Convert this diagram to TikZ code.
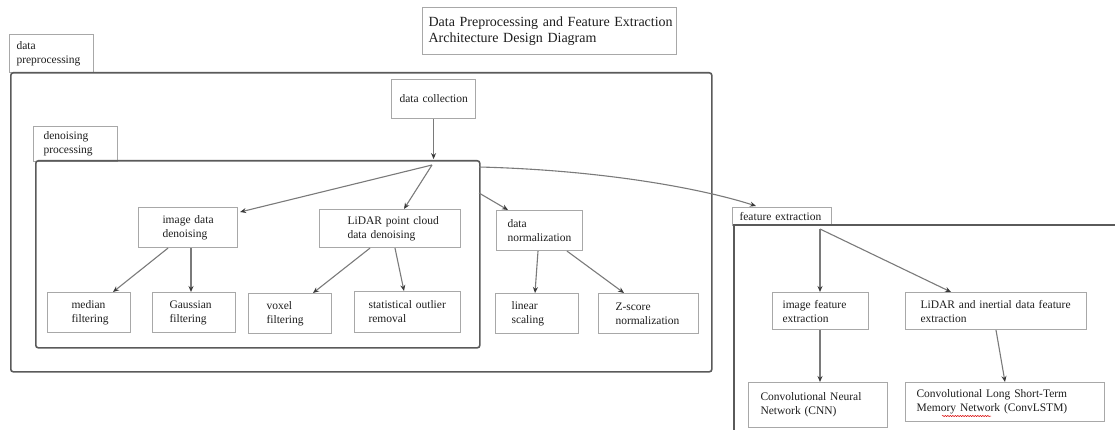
\documentclass[tikz,border=0pt]{standalone}
\usepackage{fontspec}
\setmainfont{Liberation Serif}
\usetikzlibrary{arrows.meta,calc,decorations.pathmorphing}
\definecolor{boxgray}{HTML}{A8A8A8}
\definecolor{framegray}{HTML}{5A5A5A}
\definecolor{conngray}{HTML}{7A7A7A}
\definecolor{tipgray}{HTML}{3A3A3A}
\definecolor{txtgray}{HTML}{1E1E1E}
\begin{document}
\begin{tikzpicture}[x=1pt,y=-1pt,
  box/.style={draw=boxgray, line width=1.1pt, fill=white, inner sep=0pt,
    anchor=north west, align=left, text=txtgray,
    font=\fontsize{11.5}{14}\selectfont},
  bx/.style n args={3}{minimum width=#1pt, text width=#1pt, minimum height=#2pt,
    execute at begin node={\leftskip=#3pt}},
  frame/.style={draw=framegray, line width=1.6pt, rounded corners=2.5pt,
    anchor=north west, inner sep=0pt},
  conn/.style={draw=conngray, line width=1.1pt,
    -{Stealth[length=6pt,width=5pt,inset=2pt,color=tipgray]}},
  openframe/.style={draw=framegray, line width=1.6pt}
]
\useasboundingbox (0,0) rectangle (1115,430);

% title
\node[box, bx={254}{47}{6}, font=\fontsize{14}{15.5}\selectfont] (title) at (422,7)
  {Data Preprocessing and Feature Extraction\\Architecture Design Diagram};

% data preprocessing group
\node[box, bx={84}{38}{7}] (dptab) at (9,34) {data\\preprocessing};
\node[frame, minimum width=701pt, minimum height=299pt] (pre) at (10,72) {};
\node[box, bx={84}{39}{8}] (dc) at (391,79) {data collection};

% denoising group
\node[box, bx={84}{35}{10}] (dntab) at (33,126) {denoising\\processing};
\node[frame, minimum width=444pt, minimum height=187pt] (dnf) at (35,160) {};

\node[box, bx={99}{40}{24}] (idd) at (138,207) {image data\\denoising};
\node[box, bx={141}{38}{28}] (lpd) at (319,209) {LiDAR point cloud\\data denoising};
\node[box, bx={83}{40}{24}] (med) at (47,292) {median\\filtering};
\node[box, bx={83}{40}{17}] (gau) at (152,292) {Gaussian\\filtering};
\node[box, bx={83}{40}{18}] (vox) at (248,293) {voxel\\filtering};
\node[box, bx={106}{41}{14}] (sor) at (354,291) {statistical outlier\\removal};

% normalization
\node[box, bx={86}{40}{11}] (dn) at (496,210) {data\\normalization};
\node[box, bx={83}{40}{16}] (lin) at (495,293) {linear\\scaling};
\node[box, bx={100}{40}{17}] (zs) at (598,293) {Z-score\\normalization};

% feature extraction group
\coordinate (ffbot) at (734,445);
\coordinate (ffcorner) at (734,225);
\coordinate (ffright) at (1130,225);
\node[box, bx={99}{18}{7}] (fetab) at (732,207) {feature extraction};
\draw[openframe] (ffbot) -- (ffcorner) -- (ffright);

\node[box, bx={96}{37}{10}] (ife) at (772,292) {image feature\\extraction};
\node[box, bx={181}{37}{15}] (lie) at (905,292) {LiDAR and inertial data feature\\extraction};
\node[box, bx={139}{45}{12}] (cnn) at (748,382) {Convolutional Neural\\Network (CNN)};
\node[box, bx={199}{39}{11}] (lstm) at (905,382) {Convolutional Long Short-Term\\Memory Network (ConvLSTM)};

% spell-check squiggle
\draw[red!85!black, line width=0.5pt, decorate,
  decoration={snake, amplitude=0.6pt, segment length=2.5pt}]
  ($(lstm.north west)+(37,34)$) -- ($(lstm.north west)+(86,34)$);

% connectors
\coordinate (dnin) at ($(dc.south)+(0,40)$);
\coordinate (fan1) at (432,165);
\coordinate (nfrom) at (479,193);
\coordinate (cfrom) at (479,167);
\coordinate (fan2) at (820,229);

\draw[conn] (dc.south) -- (dnin);
\draw[conn] (fan1) -- ($(idd.north east)+(2,5)$);
\draw[conn] (fan1) -- ($(lpd.north west)+(85,0)$);
\draw[conn] (nfrom) -- ($(dn.north west)+(12,0)$);
\draw[conn] ($(idd.south west)+(30,0)$) -- ($(med.north west)+(66,0)$);
\draw[conn] ($(idd.south west)+(53,0)$) -- ($(gau.north west)+(39,0)$);
\draw[conn] ($(lpd.south west)+(51,0)$) -- ($(vox.north west)+(65,0)$);
\draw[conn] ($(lpd.south west)+(76,0)$) -- ($(sor.north west)+(50,0)$);
\draw[conn] ($(dn.south west)+(42,0)$) -- ($(lin.north west)+(40,0)$);
\draw[conn] ($(dn.south west)+(71,0)$) -- ($(zs.north west)+(26,0)$);
\draw[conn] (cfrom) .. controls (600,170) and (700,188) .. ($(fetab.north west)+(24,-1)$);
\draw[conn] (fan2) -- ($(ife.north west)+(48,0)$);
\draw[conn] (fan2) -- ($(lie.north west)+(46,0)$);
\draw[conn] ($(ife.south west)+(48,0)$) -- ($(cnn.north west)+(72,0)$);
\draw[conn] ($(lie.south west)+(91,0)$) -- ($(lstm.north west)+(100,0)$);
\end{tikzpicture}
\end{document}
